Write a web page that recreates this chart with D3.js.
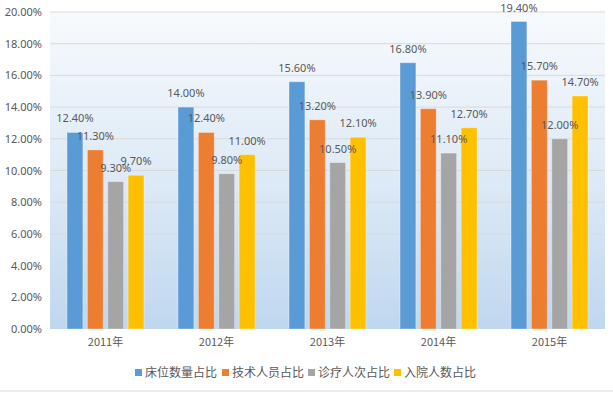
<!DOCTYPE html>
<html>
<head>
<meta charset="utf-8">
<script src="https://cdn.jsdelivr.net/npm/d3@7"></script>
<style>
  body { margin: 0; background: #fff; }
  text { font-family: "Noto Sans CJK SC", "Noto Sans", sans-serif; fill: #595959; }
</style>
</head>
<body>
<svg id="chart"></svg>
<script>
// data
var years = ["2011年", "2012年", "2013年", "2014年", "2015年"];
var seriesNames = ["床位数量占比", "技术人员占比", "诊疗人次占比", "入院人数占比"];
var seriesColors = ["#5b9bd5", "#ed7d31", "#a5a5a5", "#ffc000"];
var bedShare = [12.4, 14.0, 15.6, 16.8, 19.4];
var staffShare = [11.3, 12.4, 13.2, 13.9, 15.7];
var visitShare = [9.3, 9.8, 10.5, 11.1, 12.0];
var admitShare = [9.7, 11.0, 12.1, 12.7, 14.7];
var yTicks = [0, 2, 4, 6, 8, 10, 12, 14, 16, 18, 20];

var allSeries = [bedShare, staffShare, visitShare, admitShare];

var W = 613, H = 393;
var margin = {top: 12, right: 8, bottom: 64, left: 50};
var width = W - margin.left - margin.right,
    height = H - margin.top - margin.bottom;

var svg = d3.select("#chart").attr("width", W).attr("height", H);

// plot background gradient
var defs = svg.append("defs");
var grad = defs.append("linearGradient").attr("id", "bg")
  .attr("x1", 0).attr("y1", 0).attr("x2", 0).attr("y2", 1);
grad.append("stop").attr("offset", "0%").attr("stop-color", "#f7fafd");
grad.append("stop").attr("offset", "55%").attr("stop-color", "#dce9f6");
grad.append("stop").attr("offset", "100%").attr("stop-color", "#bfd7ef");

var g = svg.append("g")
  .attr("transform", "translate(" + margin.left + "," + margin.top + ")");

g.append("rect")
  .attr("width", width).attr("height", height)
  .attr("fill", "url(#bg)");

var x0 = d3.scaleBand().domain(years).range([0, width]);
var x1 = d3.scaleBand().domain(d3.range(seriesNames.length))
  .range([17, x0.bandwidth() - 17]).paddingInner(0.22);
var y = d3.scaleLinear().domain([0, 20]).range([height, 0]);

// gridlines
g.append("g").selectAll("line")
  .data(yTicks.slice(1))
  .enter().append("line")
  .attr("x1", 0).attr("x2", width)
  .attr("y1", function(d) { return y(d); })
  .attr("y2", function(d) { return y(d); })
  .attr("stroke", "#d9d9d9").attr("stroke-width", 1);

// y axis labels
var yAxis = g.append("g")
  .call(d3.axisLeft(y).tickValues(yTicks).tickSize(0).tickPadding(8)
    .tickFormat(function(d) { return d.toFixed(2) + "%"; }));
yAxis.select(".domain").remove();
yAxis.selectAll("text").style("font-size", "11px").attr("fill", "#595959")
  .style("font-family", "'Noto Sans', sans-serif");

// x axis labels
var xAxis = g.append("g")
  .attr("transform", "translate(0," + height + ")")
  .call(d3.axisBottom(x0).tickSize(0).tickPadding(9));
xAxis.select(".domain").remove();
xAxis.selectAll("text").style("font-size", "11px").attr("fill", "#595959");

// bars
var groups = g.selectAll(".grp")
  .data(years)
  .enter().append("g")
  .attr("transform", function(d) { return "translate(" + x0(d) + ",0)"; });

groups.each(function(yr, i) {
  var grp = d3.select(this);
  var vals = allSeries.map(function(s, k) { return {k: k, v: s[i]}; });
  grp.selectAll("rect")
    .data(vals).enter().append("rect")
    .attr("x", function(d) { return x1(d.k); })
    .attr("y", function(d) { return y(d.v); })
    .attr("width", x1.bandwidth())
    .attr("height", function(d) { return height - y(d.v); })
    .attr("fill", function(d) { return seriesColors[d.k]; })
    .attr("stroke", "rgba(255,255,255,0.35)").attr("stroke-width", 1);
  grp.selectAll("text")
    .data(vals).enter().append("text")
    .attr("x", function(d) { return x1(d.k) + x1.bandwidth() / 2; })
    .attr("y", function(d) { return y(d.v) - 10; })
    .attr("text-anchor", "middle")
    .style("font-size", "11px")
    .style("font-family", "'Noto Sans', sans-serif")
    .text(function(d) { return d.v.toFixed(2) + "%"; });
});

// legend
var legendX = [135, 222, 308, 394];
var legend = svg.append("g").attr("transform", "translate(0,373)");
seriesNames.forEach(function(name, k) {
  legend.append("rect")
    .attr("x", legendX[k]).attr("y", -4)
    .attr("width", 7).attr("height", 7)
    .attr("fill", seriesColors[k]);
  legend.append("text")
    .attr("x", legendX[k] + 10).attr("y", 4)
    .style("font-size", "12px")
    .text(name);
});

// bottom frame line
svg.append("line")
  .attr("x1", 0).attr("x2", W).attr("y1", 391).attr("y2", 391)
  .attr("stroke", "#d9d9d9");
</script>
</body>
</html>
